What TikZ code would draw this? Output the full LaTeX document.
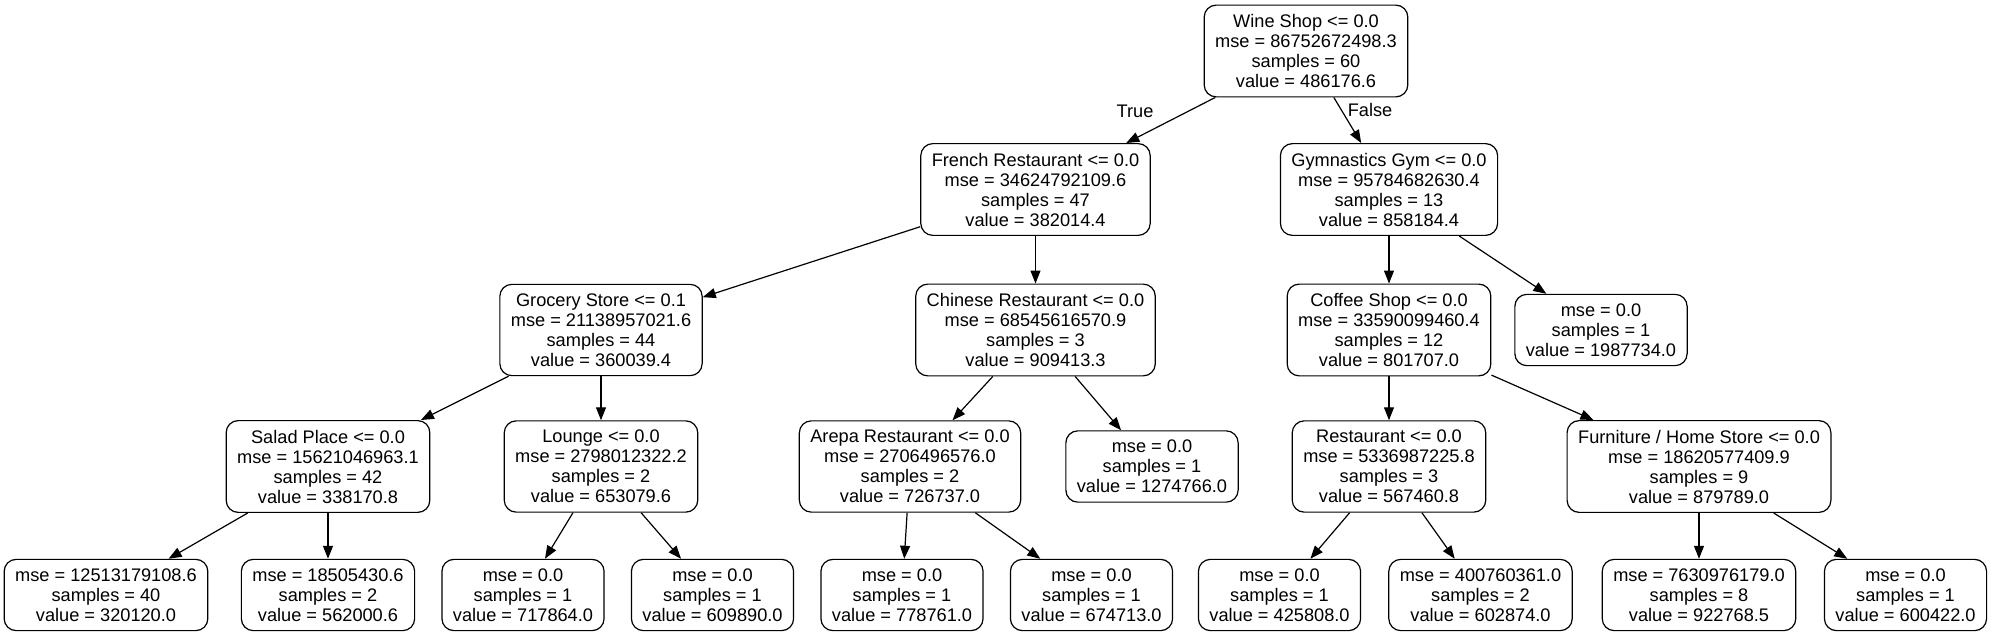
\documentclass[tikz,border=0pt]{standalone}
\usepackage{fontspec}
\setmainfont{Liberation Sans}
\usetikzlibrary{arrows.meta}

\tikzset{
    treebox/.style={ draw, rounded corners=6pt, line width=0.6pt, align=center,
        inner xsep=5.5pt, inner ysep=4.6pt, font=\fontsize{9.1}{10}\selectfont },
    branch/.style={ line width=0.6pt, -{Triangle[length=6.5pt,width=5pt]} },
    branchlabel/.style={ inner sep=0pt, font=\fontsize{9.1}{10}\selectfont }
}

\begin{document}
\begin{tikzpicture}[ x=0.5pt, y=-0.5pt ]
    \useasboundingbox (0,0) rectangle (1992,636);

    % root and first split
    \node [ treebox ] (wine) at (1306,51) {Wine Shop <= 0.0\\mse = 86752672498.3\\samples = 60\\value = 486176.6};
    \node [ treebox ] (french) at (1035.5,189.5) {French Restaurant <= 0.0\\mse = 34624792109.6\\samples = 47\\value = 382014.4};
    \node [ treebox ] (gym) at (1389,189.5) {Gymnastics Gym <= 0.0\\mse = 95784682630.4\\samples = 13\\value = 858184.4};

    % second level
    \node [ treebox ] (grocery) at (601,330) {Grocery Store <= 0.1\\mse = 21138957021.6\\samples = 44\\value = 360039.4};
    \node [ treebox ] (chinese) at (1035.5,330) {Chinese Restaurant <= 0.0\\mse = 68545616570.9\\samples = 3\\value = 909413.3};
    \node [ treebox ] (coffee) at (1389,330) {Coffee Shop <= 0.0\\mse = 33590099460.4\\samples = 12\\value = 801707.0};
    \node [ treebox ] (gymleaf) at (1601,330) {mse = 0.0\\samples = 1\\value = 1987734.0};

    % third level
    \node [ treebox ] (salad) at (328,466.5) {Salad Place <= 0.0\\mse = 15621046963.1\\samples = 42\\value = 338170.8};
    \node [ treebox ] (lounge) at (601,466.5) {Lounge <= 0.0\\mse = 2798012322.2\\samples = 2\\value = 653079.6};
    \node [ treebox ] (arepa) at (910,466.5) {Arepa Restaurant <= 0.0\\mse = 2706496576.0\\samples = 2\\value = 726737.0};
    \node [ treebox ] (chineseleaf) at (1152,466.5) {mse = 0.0\\samples = 1\\value = 1274766.0};
    \node [ treebox ] (restaurant) at (1389,466.5) {Restaurant <= 0.0\\mse = 5336987225.8\\samples = 3\\value = 567460.8};
    \node [ treebox ] (furniture) at (1699,466.5) {Furniture / Home Store <= 0.0\\mse = 18620577409.9\\samples = 9\\value = 879789.0};

    % leaves
    \node [ treebox ] (saladA) at (106,595) {mse = 12513179108.6\\samples = 40\\value = 320120.0};
    \node [ treebox ] (saladB) at (328,595) {mse = 18505430.6\\samples = 2\\value = 562000.6};
    \node [ treebox ] (loungeA) at (523,595) {mse = 0.0\\samples = 1\\value = 717864.0};
    \node [ treebox ] (loungeB) at (712.5,595) {mse = 0.0\\samples = 1\\value = 609890.0};
    \node [ treebox ] (arepaA) at (902,595) {mse = 0.0\\samples = 1\\value = 778761.0};
    \node [ treebox ] (arepaB) at (1091.5,595) {mse = 0.0\\samples = 1\\value = 674713.0};
    \node [ treebox ] (restA) at (1279.5,595) {mse = 0.0\\samples = 1\\value = 425808.0};
    \node [ treebox ] (restB) at (1480.5,595) {mse = 400760361.0\\samples = 2\\value = 602874.0};
    \node [ treebox ] (furnA) at (1699,595) {mse = 7630976179.0\\samples = 8\\value = 922768.5};
    \node [ treebox ] (furnB) at (1905.5,595) {mse = 0.0\\samples = 1\\value = 600422.0};

    % edges
    \draw [ branch ] (wine) -- (french); \node [ branchlabel ] (truelbl) at (1135,111) {True};
    \draw [ branch ] (wine) -- (gym); \node [ branchlabel ] (falselbl) at (1370,110) {False};
    \draw [ branch ] (french) -- (grocery);
    \draw [ branch ] (french) -- (chinese);
    \draw [ branch ] (gym) -- (coffee);
    \draw [ branch ] (gym) -- (gymleaf);
    \draw [ branch ] (grocery) -- (salad);
    \draw [ branch ] (grocery) -- (lounge);
    \draw [ branch ] (chinese) -- (arepa);
    \draw [ branch ] (chinese) -- (chineseleaf);
    \draw [ branch ] (coffee) -- (restaurant);
    \draw [ branch ] (coffee) -- (furniture);
    \draw [ branch ] (salad) -- (saladA);
    \draw [ branch ] (salad) -- (saladB);
    \draw [ branch ] (lounge) -- (loungeA);
    \draw [ branch ] (lounge) -- (loungeB);
    \draw [ branch ] (arepa) -- (arepaA);
    \draw [ branch ] (arepa) -- (arepaB);
    \draw [ branch ] (restaurant) -- (restA);
    \draw [ branch ] (restaurant) -- (restB);
    \draw [ branch ] (furniture) -- (furnA);
    \draw [ branch ] (furniture) -- (furnB);
\end{tikzpicture}
\end{document}
